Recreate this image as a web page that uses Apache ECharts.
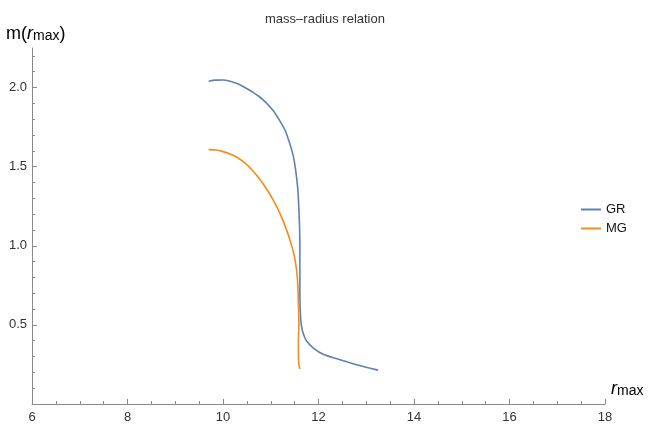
<!DOCTYPE html>
<html>
<head>
<meta charset="utf-8">
<title>mass-radius relation</title>
<script src="https://cdn.jsdelivr.net/npm/echarts@6/dist/echarts.min.js"></script>
<style>
  html, body { margin: 0; padding: 0; background: #fff; }
  #chart { width: 650px; height: 424px; }
</style>
</head>
<body>
<div id="chart"></div>
<script type="text/javascript">
// GR curve (r_max, m)
var grX = [9.70, 9.85, 10.00, 10.15, 10.31, 10.45, 10.60, 10.75, 10.90, 11.05, 11.20, 11.30, 11.40, 11.47, 11.52, 11.56, 11.58, 11.60, 11.61, 11.61, 11.61, 11.62, 11.64, 11.68, 11.75, 11.90, 12.10, 12.40, 12.80, 13.25];
var grY = [2.040, 2.047, 2.048, 2.040, 2.024, 2.002, 1.975, 1.945, 1.905, 1.855, 1.785, 1.730, 1.645, 1.570, 1.482, 1.380, 1.290, 1.150, 1.000, 0.850, 0.700, 0.580, 0.500, 0.445, 0.398, 0.352, 0.314, 0.284, 0.248, 0.214];
// MG curve
var mgX = [9.70, 9.85, 10.00, 10.15, 10.30, 10.45, 10.60, 10.75, 10.90, 11.05, 11.20, 11.32, 11.42, 11.49, 11.54, 11.57, 11.58, 11.59, 11.58, 11.58, 11.59, 11.61];
var mgY = [1.608, 1.605, 1.595, 1.580, 1.558, 1.525, 1.482, 1.428, 1.365, 1.290, 1.200, 1.110, 1.020, 0.940, 0.850, 0.740, 0.620, 0.500, 0.400, 0.320, 0.250, 0.221];

var names = ['GR', 'MG'];
var yMajor = [0.5, 1.0, 1.5, 2.0];
var yMinor = [0.1, 0.2, 0.3, 0.4, 0.6, 0.7, 0.8, 0.9, 1.1, 1.2, 1.3, 1.4, 1.6, 1.7, 1.8, 1.9, 2.1, 2.2];

function pairs(xs, ys) {
  var out = [];
  for (var i = 0; i < xs.length; i++) {
    out.push([xs[i], ys[i]]);
  }
  return out;
}

var axisGray = '#8a8a8a';
var labelColor = '#333';
var font = 'Liberation Sans, Arial, sans-serif';

var myChart = echarts.init(document.getElementById('chart'));
var option = {
  color: ['#5e81b5', '#fb8a12'],
  textStyle: { fontFamily: font },
  title: {
    text: 'mass\u2013radius relation',
    left: 'center',
    top: 8,
    textStyle: { fontSize: 13, fontWeight: 'normal', color: '#333', fontFamily: font }
  },
  legend: {
    data: names,
    orient: 'vertical',
    left: 576,
    top: 198,
    icon: 'rect',
    itemWidth: 20,
    itemHeight: 2,
    itemGap: 6,
    textStyle: { fontSize: 13, color: '#111', fontFamily: font }
  },
  grid: { left: 32, right: 45, top: 48, bottom: 20 },
  xAxis: {
    type: 'value',
    min: 6,
    max: 18,
    interval: 2,
    axisLine: { lineStyle: { color: axisGray, width: 1 } },
    axisTick: { inside: true, length: 5, lineStyle: { color: axisGray } },
    minorTick: { show: true, splitNumber: 4, length: 3, lineStyle: { color: axisGray } },
    splitLine: { show: false },
    axisLabel: { color: labelColor, fontSize: 13, margin: 7, fontFamily: font }
  },
  yAxis: [{
    type: 'value',
    min: 0,
    max: 2.25,
    axisLine: { show: true, lineStyle: { color: axisGray, width: 1 } },
    axisTick: { inside: true, length: 5, customValues: yMajor, lineStyle: { color: axisGray } },
    splitLine: { show: false },
    axisLabel: {
      customValues: yMajor,
      color: labelColor,
      fontSize: 13,
      margin: 5,
      fontFamily: font,
      formatter: function (v) { return v.toFixed(1); }
    }
  }, {
    type: 'value',
    min: 0,
    max: 2.25,
    position: 'left',
    axisLine: { show: false },
    axisTick: { show: true, inside: true, length: 3, customValues: yMinor, lineStyle: { color: axisGray } },
    splitLine: { show: false },
    axisLabel: { show: false }
  }],
  graphic: [{
    type: 'text',
    left: 6,
    top: 25,
    style: {
      text: '{a|m(}{r|r}{s|max}{a|)}',
      rich: {
        a: { fontSize: 18, color: '#222', fontFamily: font, lineHeight: 20, verticalAlign: 'bottom' },
        r: { fontSize: 18, color: '#222', fontFamily: font, fontStyle: 'italic', lineHeight: 20, verticalAlign: 'bottom' },
        s: { fontSize: 14, color: '#222', fontFamily: font, lineHeight: 20, verticalAlign: 'bottom', padding: [3, 0, 0, 0] }
      }
    }
  }, {
    type: 'text',
    left: 611,
    top: 380,
    style: {
      text: '{r|r}{s|max}',
      rich: {
        r: { fontSize: 18, color: '#222', fontFamily: font, fontStyle: 'italic', lineHeight: 20, verticalAlign: 'bottom' },
        s: { fontSize: 14, color: '#222', fontFamily: font, lineHeight: 20, verticalAlign: 'bottom', padding: [3, 0, 0, 0] }
      }
    }
  }],
  series: [{
    name: 'GR',
    type: 'line',
    showSymbol: false,
    smooth: 0.3,
    lineStyle: { width: 1.6 },
    data: pairs(grX, grY)
  }, {
    name: 'MG',
    type: 'line',
    showSymbol: false,
    smooth: 0.3,
    lineStyle: { width: 1.6 },
    data: pairs(mgX, mgY)
  }]
};
myChart.setOption(option);
</script>
</body>
</html>
